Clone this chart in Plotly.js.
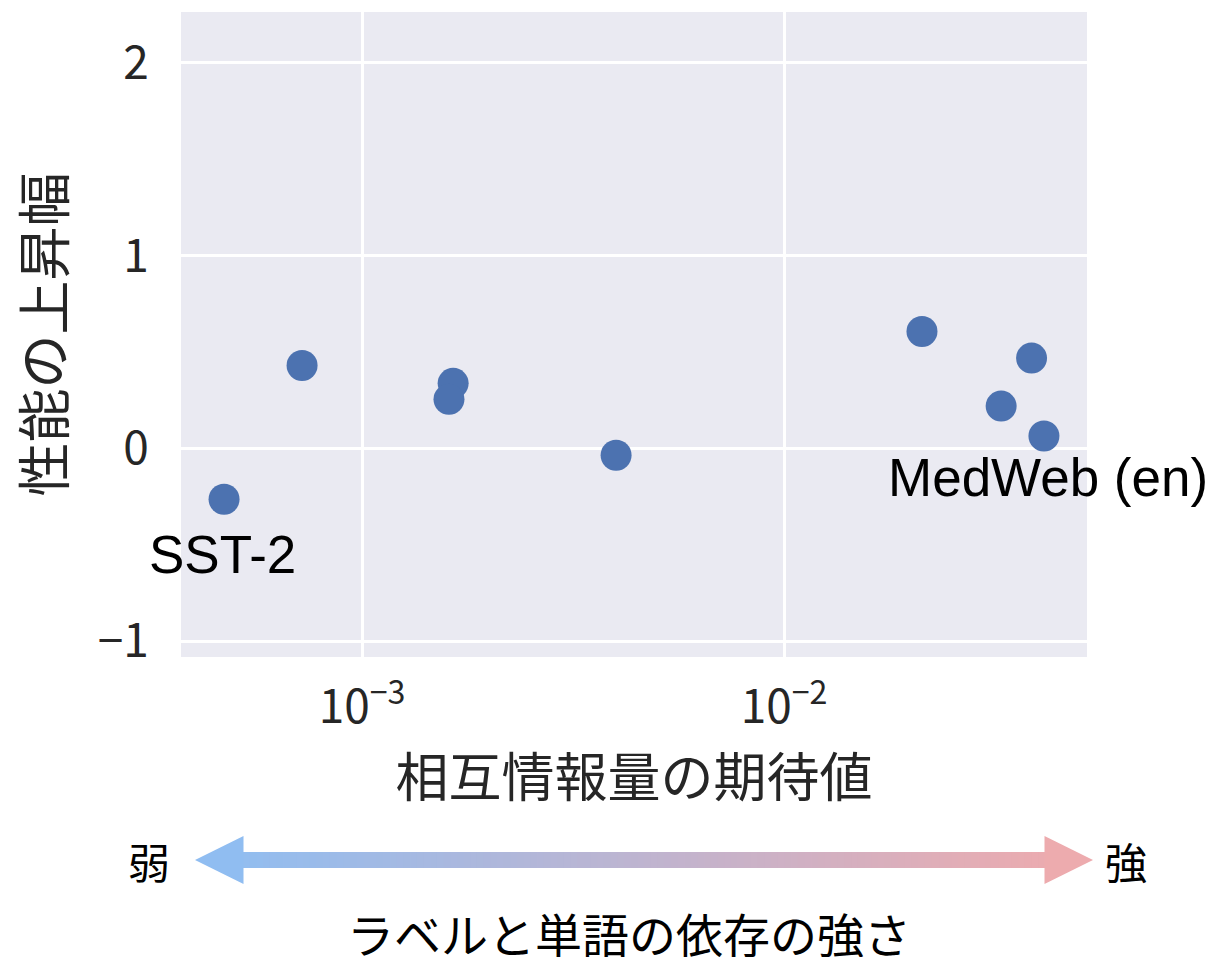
<!DOCTYPE html>
<html>
<head>
<meta charset="utf-8">
<script src="https://cdn.plot.ly/plotly-3.0.1.min.js"></script>
<style>
  html, body { margin: 0; padding: 0; background: #fff; }
  #chart { width: 1212px; height: 958px; }
</style>
</head>
<body>
<div id="chart"></div>
<script>
// Expected mutual information per dataset vs. performance gain
const mutualInfo = [0.000471, 0.000721, 0.001644, 0.001607, 0.00400, 0.02123, 0.0386, 0.0327, 0.0413];
const gain       = [-0.264, 0.430, 0.337, 0.254, -0.036, 0.606, 0.468, 0.219, 0.064];
const datasetNames = ['SST-2', '', '', '', '', '', '', '', 'MedWeb (en)'];

const xTickVals = [0.001, 0.01];
const xTickText = ['10<sup>−3</sup>', '10<sup>−2</sup>'];
const yTickVals = [-1, 0, 1, 2];
const yTickText = ['−1', '0', '1', '2'];

const xTitle = '相互情報量の期待値';
const yTitle = '性能の上昇幅';
const scaleLabel = 'ラベルと単語の依存の強さ';
const weakLabel = '弱';
const strongLabel = '強';

const W = 1212, H = 958;
const M = { l: 181, r: 125, t: 12, b: 301 };
const PW = W - M.l - M.r, PH = H - M.t - M.b;
const px = x => (x - M.l) / PW;          // canvas px -> paper x
const py = y => (H - M.b - y) / PH;      // canvas px -> paper y

const JP = '"Noto Sans CJK JP", "Noto Sans", sans-serif';
const LAT = '"Liberation Sans", Arial, sans-serif';

// Gradient double arrow under the chart, built from thin strips
const c0 = [141, 190, 243], c1 = [240, 170, 172];
const mix = t => 'rgb(' + c0.map((v, i) => Math.round(v + (c1[i] - v) * t)).join(',') + ')';
const shapes = [];
const aL = 195, aR = 1093, hb = 48, yc = 860, sh = 8, hh = 24;
const sx0 = aL + hb, sx1 = aR - hb, N = 120;
for (let i = 0; i < N; i++) {
  const x0 = sx0 + (sx1 - sx0) * i / N, x1 = sx0 + (sx1 - sx0) * (i + 1) / N + 0.8;
  const t = ((x0 + x1) / 2 - aL) / (aR - aL);
  shapes.push({ type: 'rect', xref: 'paper', yref: 'paper', layer: 'above',
    x0: px(x0), x1: px(x1), y0: py(yc - sh), y1: py(yc + sh),
    fillcolor: mix(t), line: { width: 0 } });
}
const tri = (pts, col) => ({ type: 'path', xref: 'paper', yref: 'paper', layer: 'above',
  path: 'M' + pts.map(p => px(p[0]) + ',' + py(p[1])).join(' L') + ' Z',
  fillcolor: col, line: { width: 0 } });
shapes.push(tri([[aL, yc], [sx0 + 0.5, yc - hh], [sx0 + 0.5, yc + hh]], mix(0.03)));
shapes.push(tri([[aR, yc], [sx1 - 0.5, yc - hh], [sx1 - 0.5, yc + hh]], mix(0.97)));

const annotations = [
  { text: 'SST-2', x: Math.log10(mutualInfo[0]), y: gain[0], xref: 'x', yref: 'y',
    showarrow: false, xanchor: 'center', yanchor: 'middle', xshift: -2, yshift: -55,
    font: { family: LAT, size: 53, color: '#000' } },
  { text: 'MedWeb (en)', x: Math.log10(mutualInfo[8]), y: gain[8], xref: 'x', yref: 'y',
    showarrow: false, xanchor: 'center', yanchor: 'middle', xshift: 4, yshift: -42,
    font: { family: LAT, size: 53, color: '#000' } },
  { text: weakLabel, x: px(149), y: py(yc), xref: 'paper', yref: 'paper', showarrow: false,
    xanchor: 'center', yanchor: 'middle', font: { family: JP, size: 42, color: '#000' } },
  { text: strongLabel, x: px(1126), y: py(yc), xref: 'paper', yref: 'paper', showarrow: false,
    xanchor: 'center', yanchor: 'middle', font: { family: JP, size: 42, color: '#000' } },
  { text: scaleLabel, x: px(629), y: py(932), xref: 'paper', yref: 'paper', showarrow: false,
    xanchor: 'center', yanchor: 'middle', height: 50, borderpad: 0,
    font: { family: JP, size: 47, color: '#000' } }
];

const trace = {
  type: 'scatter', mode: 'markers',
  x: mutualInfo, y: gain, text: datasetNames,
  marker: { size: 31, color: '#4c72b0', line: { width: 0 } },
  hoverinfo: 'x+y+text', showlegend: false
};

const layout = {
  width: W, height: H,
  margin: M,
  paper_bgcolor: '#ffffff',
  plot_bgcolor: '#eaeaf2',
  showlegend: false,
  xaxis: {
    type: 'log', range: [-3.429, -1.282],
    tickmode: 'array', tickvals: xTickVals, ticktext: xTickText,
    showgrid: true, gridcolor: '#ffffff', gridwidth: 3,
    zeroline: false, showline: false,
    ticks: 'outside', ticklen: 10, tickcolor: 'rgba(0,0,0,0)',
    tickfont: { family: JP, size: 46, color: '#262626' },
    title: { text: xTitle, font: { family: JP, size: 53, color: '#262626' }, standoff: 4 },
    automargin: false
  },
  yaxis: {
    range: [-1.083, 2.264],
    tickmode: 'array', tickvals: yTickVals, ticktext: yTickText,
    showgrid: true, gridcolor: '#ffffff', gridwidth: 3,
    zeroline: false, showline: false,
    ticks: 'outside', ticklen: 22, tickcolor: 'rgba(0,0,0,0)',
    tickfont: { family: JP, size: 46, color: '#262626' },
    title: { text: yTitle, font: { family: JP, size: 54, color: '#262626' }, standoff: 14 },
    automargin: false
  },
  shapes: shapes,
  annotations: annotations
};

Plotly.newPlot('chart', [trace], layout, { displayModeBar: false, staticPlot: true });
</script>
</body>
</html>
